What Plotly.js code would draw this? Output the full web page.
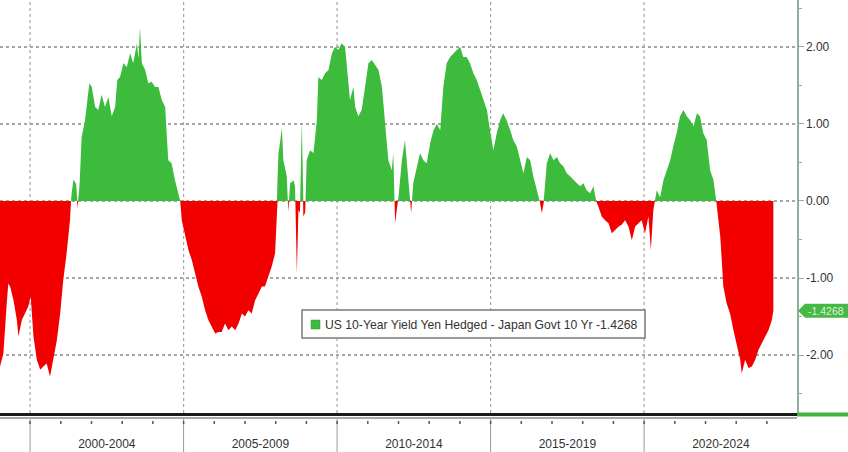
<!DOCTYPE html>
<html>
<head>
<meta charset="utf-8">
<script src="https://cdn.plot.ly/plotly-3.0.1.min.js"></script>
<style>html,body{margin:0;padding:0;background:#fff;}#chart{width:848px;height:452px;}</style>
</head>
<body>
<div id="chart"></div>
<script>
// Spread: US 10-Year Yield Yen Hedged - Japan Govt 10 Yr (percentage points), decimal years
const years = [
1999.02,1999.13,1999.24,1999.29,1999.35,1999.46,1999.57,1999.62,1999.73,1999.84,1999.94,2000.02,
2000.11,2000.22,2000.33,2000.43,2000.54,2000.65,2000.76,2000.87,2000.98,2001.08,2001.19,2001.30,
2001.34,2001.41,2001.50,2001.54,2001.61,2001.68,2001.79,2001.93,2002.01,2002.12,2002.22,2002.33,
2002.44,2002.55,2002.66,2002.77,2002.84,2002.93,2003.04,2003.15,2003.26,2003.36,2003.48,2003.53,
2003.58,2003.64,2003.75,2003.85,2003.96,2004.07,2004.18,2004.29,2004.40,2004.50,2004.61,2004.72,
2004.83,2004.89,2004.94,2005.05,2005.16,2005.27,2005.37,2005.48,2005.59,2005.70,2005.81,2005.92,
2006.03,2006.13,2006.24,2006.35,2006.46,2006.57,2006.68,2006.79,2006.90,2007.00,2007.11,2007.22,
2007.33,2007.44,2007.55,2007.65,2007.76,2007.87,2007.98,2008.02,2008.06,2008.09,2008.14,2008.20,
2008.25,2008.36,2008.41,2008.47,2008.58,2008.63,2008.69,2008.74,2008.79,2008.85,2008.90,2008.96,
2009.01,2009.12,2009.23,2009.34,2009.39,2009.50,2009.61,2009.72,2009.83,2009.93,2010.04,2010.15,
2010.26,2010.32,2010.42,2010.53,2010.59,2010.69,2010.80,2010.91,2011.02,2011.13,2011.24,2011.35,
2011.46,2011.56,2011.67,2011.78,2011.83,2011.89,2011.94,2012.00,2012.11,2012.21,2012.32,2012.41,
2012.48,2012.60,2012.70,2012.81,2012.92,2013.03,2013.14,2013.25,2013.36,2013.46,2013.57,2013.68,
2013.79,2013.90,2014.01,2014.11,2014.22,2014.33,2014.44,2014.55,2014.66,2014.77,2014.88,2014.98,
2015.09,2015.20,2015.31,2015.41,2015.52,2015.64,2015.74,2015.85,2015.96,2016.07,2016.18,2016.29,
2016.39,2016.50,2016.59,2016.67,2016.74,2016.83,2016.94,2017.05,2017.16,2017.26,2017.37,2017.48,
2017.59,2017.70,2017.81,2017.92,2018.02,2018.13,2018.24,2018.35,2018.44,2018.51,2018.62,2018.73,
2018.84,2018.95,2019.06,2019.17,2019.27,2019.38,2019.49,2019.60,2019.71,2019.81,2019.92,2020.03,
2020.14,2020.22,2020.30,2020.41,2020.52,2020.63,2020.74,2020.85,2020.95,2021.06,2021.17,2021.28,
2021.39,2021.50,2021.61,2021.72,2021.82,2021.93,2022.04,2022.15,2022.26,2022.35,2022.42,2022.48,
2022.53,2022.58,2022.69,2022.80,2022.91,2023.02,2023.13,2023.18,2023.29,2023.40,2023.51,2023.62,
2023.73,2023.83,2023.94,2024.05,2024.16,2024.21
];
const spread = [
-2.15,-1.98,-1.33,-1.07,-1.11,-1.29,-1.55,-1.76,-1.55,-1.46,-1.37,-1.24,
-1.76,-2.06,-2.19,-2.15,-2.11,-2.28,-2.06,-1.81,-1.46,-1.03,-0.68,-0.25,
0.05,0.28,0.22,-0.10,0.20,0.83,1.05,1.53,1.48,1.22,1.18,1.38,
1.22,1.35,1.10,1.22,1.57,1.61,1.79,1.74,1.92,1.79,2.05,1.85,
2.25,1.79,1.70,1.53,1.55,1.48,1.48,1.31,1.22,0.53,0.49,0.27,
0.10,0.00,-0.25,-0.46,-0.64,-0.77,-0.94,-1.11,-1.24,-1.42,-1.55,-1.63,
-1.72,-1.70,-1.70,-1.59,-1.68,-1.63,-1.68,-1.59,-1.46,-1.50,-1.42,-1.46,
-1.29,-1.20,-1.11,-1.11,-0.98,-0.85,-0.68,-0.30,0.30,0.62,0.75,0.95,
0.53,0.32,-0.14,0.23,0.27,0.19,-0.94,-0.12,-0.15,1.05,-0.20,-0.15,
0.53,0.66,0.62,1.05,1.61,1.57,1.66,1.70,1.92,2.00,1.96,2.05,
2.00,1.74,1.31,1.48,1.22,1.10,1.18,1.48,1.79,1.83,1.77,1.70,
1.48,1.05,0.53,0.40,0.62,-0.29,-0.10,0.05,0.53,0.79,0.32,-0.16,
0.23,0.45,0.62,0.53,0.49,0.75,0.92,1.00,0.92,1.48,1.79,1.87,
1.92,1.96,2.00,1.87,1.87,1.79,1.66,1.57,1.44,1.31,1.18,0.92,
0.66,0.88,1.05,1.14,1.05,0.92,0.79,0.71,0.53,0.36,0.57,0.53,
0.32,0.14,0.02,-0.16,0.05,0.49,0.62,0.53,0.57,0.49,0.45,0.36,
0.32,0.27,0.23,0.19,0.23,0.14,0.10,0.19,0.00,-0.07,-0.20,-0.25,
-0.29,-0.42,-0.38,-0.33,-0.31,-0.25,-0.33,-0.51,-0.33,-0.29,-0.25,-0.42,
-0.20,-0.64,-0.12,0.14,0.05,0.27,0.40,0.53,0.71,0.88,1.10,1.18,
1.10,1.05,0.97,1.14,1.10,0.88,0.79,0.40,0.27,0.00,-0.25,-0.46,
-0.77,-1.11,-1.33,-1.46,-1.68,-1.89,-2.06,-2.24,-2.06,-2.17,-2.15,-2.06,
-1.93,-1.85,-1.76,-1.68,-1.55,-1.4268
];
const seriesName = "US 10-Year Yield Yen Hedged - Japan Govt 10 Yr";
const periodStarts = [2000, 2005, 2010, 2015, 2020];
const periodLabels = ["2000-2004", "2005-2009", "2010-2014", "2015-2019", "2020-2024"];
const yTickVals = [-2, -1, 0, 1, 2];
const yTickText = ["-2.00", "-1.00", "0.00", "1.00", "2.00"];

// split into positive / negative parts with zero crossings
const xs = [], pos = [], neg = [];
for (let i = 0; i < years.length; i++) {
  if (i > 0) {
    const a = spread[i-1], b = spread[i];
    if ((a > 0 && b < 0) || (a < 0 && b > 0)) {
      const xc = years[i-1] + (years[i]-years[i-1]) * (a / (a - b));
      xs.push(xc); pos.push(0); neg.push(0);
    }
  }
  xs.push(years[i]);
  pos.push(Math.max(spread[i], 0));
  neg.push(Math.min(spread[i], 0));
}

const GREEN = '#3dbb3d', RED = '#f20000';
const xRange = [1999.02, 2024.98];
const yRange = [-2.753, 2.61];
const PW = 797, PH = 413; // plot area size
const px = v => v / PW;                  // pixel -> paper x
const py = v => 1 - v / PH;              // pixel -> paper y
const vy = v => (v - yRange[0]) / (yRange[1] - yRange[0]); // value -> paper y

const last = spread[spread.length - 1];
const lastTxt = last.toFixed(4);

const traces = [
  {x: xs, y: neg, type: 'scatter', mode: 'lines', fill: 'tozeroy', fillcolor: RED,
   line: {color: RED, width: 0}, hoverinfo: 'skip', showlegend: false},
  {x: xs, y: pos, type: 'scatter', mode: 'lines', fill: 'tozeroy', fillcolor: GREEN,
   line: {color: GREEN, width: 0}, hoverinfo: 'skip', showlegend: false}
];

const shapes = [];
periodStarts.forEach(yr => {
  shapes.push({type: 'line', xref: 'x', yref: 'paper', x0: yr, x1: yr, y0: 0, y1: 1,
    layer: 'below', line: {color: '#a6a6a6', width: 1.2, dash: 'dot'}});
  shapes.push({type: 'line', xref: 'x', yref: 'paper', x0: yr, x1: yr, y0: py(418), y1: py(452),
    line: {color: '#9a9a9a', width: 1}});
});
for (let yr = 2000; yr <= 2024; yr++) {
  shapes.push({type: 'line', xref: 'x', yref: 'paper', x0: yr, x1: yr, y0: py(421), y1: py(424),
    line: {color: '#555', width: 1.5}});
}
shapes.push({type: 'line', xref: 'paper', yref: 'paper', x0: 0, x1: 1, y0: py(418), y1: py(418),
  line: {color: '#a8a8a8', width: 2}});
shapes.push({type: 'line', xref: 'paper', yref: 'paper', x0: 1, x1: px(848), y0: py(414.5), y1: py(414.5),
  line: {color: '#3fb43f', width: 4}});
// legend box
shapes.push({type: 'rect', xref: 'paper', yref: 'paper', x0: px(302), x1: px(645), y0: py(338), y1: py(310),
  fillcolor: '#ffffff', line: {color: '#7a7a7a', width: 1.5}});
shapes.push({type: 'rect', xref: 'paper', yref: 'paper', x0: px(311), x1: px(320), y0: py(329), y1: py(320),
  fillcolor: GREEN, line: {color: '#2f9a2f', width: 0.5}});
// last value label
const ly = vy(last), dh = 7 / PH;
shapes.push({type: 'path', xref: 'paper', yref: 'paper',
  path: `M ${px(798)},${ly} L ${px(805)},${ly + dh} L ${px(848)},${ly + dh} L ${px(848)},${ly - dh} L ${px(805)},${ly - dh} Z`,
  fillcolor: '#45b845', line: {color: '#45b845', width: 0}});

const annotations = [
  {xref: 'paper', yref: 'paper', x: px(323), y: py(324.5), xanchor: 'left', yanchor: 'middle',
   text: seriesName + ' ' + lastTxt, showarrow: false,
   font: {family: 'Liberation Sans, Arial, sans-serif', size: 12.2, color: '#333'}},
  {xref: 'paper', yref: 'paper', x: px(826), y: ly, xanchor: 'center', yanchor: 'middle',
   text: lastTxt, showarrow: false,
   font: {family: 'Liberation Sans, Arial, sans-serif', size: 10.5, color: '#dff2d8'}}
];

const layout = {
  width: 848, height: 452,
  margin: {l: 0, r: 51, t: 0, b: 39},
  paper_bgcolor: '#ffffff', plot_bgcolor: '#ffffff',
  showlegend: false,
  xaxis: {
    range: xRange, showgrid: false, zeroline: false,
    tickvals: periodStarts.map(y => y + 2.5), ticktext: periodLabels,
    ticks: '', ticklabelstandoff: 18,
    showline: true, linecolor: '#1a1a1a', linewidth: 3,
    tickfont: {family: 'Liberation Sans, Arial, sans-serif', size: 12, color: '#333'}
  },
  yaxis: {
    side: 'right', range: yRange, zeroline: false,
    tickvals: yTickVals, ticktext: yTickText,
    showgrid: true, gridcolor: '#a6a6a6', griddash: 'dot', gridwidth: 1.2,
    showline: true, linecolor: '#8fae9c', linewidth: 1.5,
    ticks: 'outside', ticklen: 5, tickcolor: '#8fae9c',
    minor: {tickvals: [-2.5, -1.5, -0.5, 0.5, 1.5, 2.5], ticks: 'outside', ticklen: 3, tickcolor: '#8fae9c', showgrid: false},
    tickfont: {family: 'Liberation Sans, Arial, sans-serif', size: 12, color: '#333'}
  },
  shapes: shapes,
  annotations: annotations
};

Plotly.newPlot('chart', traces, layout, {staticPlot: true, displayModeBar: false});
</script>
</body>
</html>
